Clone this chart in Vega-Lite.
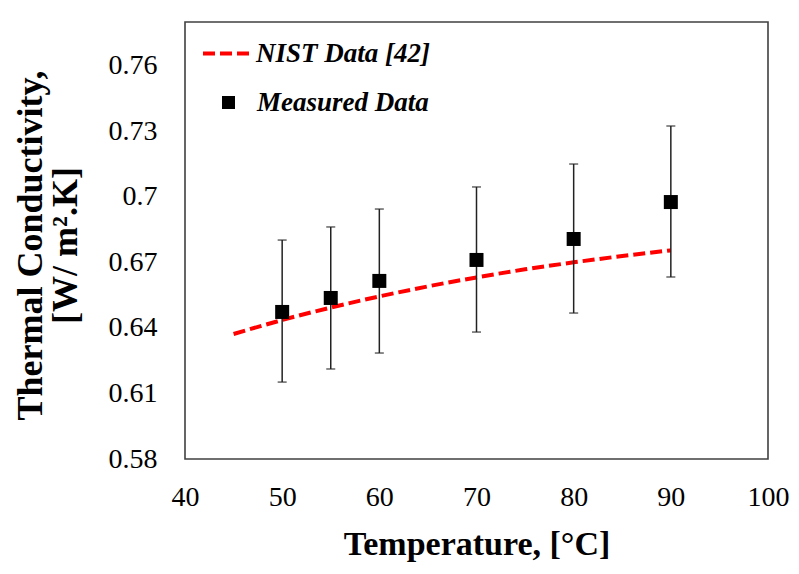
{
  "$schema": "https://vega.github.io/schema/vega-lite/v6.json",
  "width": 583,
  "height": 437,
  "autosize": {"type": "none"},
  "padding": {"left": 185, "top": 22, "right": 31, "bottom": 115},
  "background": "white",
  "datasets": {
    "nist": [
      {"temperature": 45, "k": 0.6372, "curve": "NIST Data [42]"},
      {"temperature": 50, "k": 0.6436, "curve": "NIST Data [42]"},
      {"temperature": 55, "k": 0.6493, "curve": "NIST Data [42]"},
      {"temperature": 60, "k": 0.6544, "curve": "NIST Data [42]"},
      {"temperature": 65, "k": 0.659, "curve": "NIST Data [42]"},
      {"temperature": 70, "k": 0.6631, "curve": "NIST Data [42]"},
      {"temperature": 75, "k": 0.6668, "curve": "NIST Data [42]"},
      {"temperature": 80, "k": 0.67, "curve": "NIST Data [42]"},
      {"temperature": 85, "k": 0.6729, "curve": "NIST Data [42]"},
      {"temperature": 90, "k": 0.6755, "curve": "NIST Data [42]"}
    ],
    "measured": [
      {"temperature": 50, "k": 0.6473, "err_lo": 0.6152, "err_hi": 0.6802, "sample": "Measured Data"},
      {"temperature": 55, "k": 0.6537, "err_lo": 0.6212, "err_hi": 0.6862, "sample": "Measured Data"},
      {"temperature": 60, "k": 0.6615, "err_lo": 0.6285, "err_hi": 0.6944, "sample": "Measured Data"},
      {"temperature": 70, "k": 0.6711, "err_lo": 0.6381, "err_hi": 0.7045, "sample": "Measured Data"},
      {"temperature": 80, "k": 0.6807, "err_lo": 0.6468, "err_hi": 0.715, "sample": "Measured Data"},
      {"temperature": 90, "k": 0.6976, "err_lo": 0.6633, "err_hi": 0.7324, "sample": "Measured Data"}
    ]
  },
  "encoding": {
    "x": {
      "field": "temperature",
      "type": "quantitative",
      "scale": {"domain": [40, 100], "nice": false, "zero": false},
      "axis": {
        "title": "Temperature, [°C]",
        "values": [40, 50, 60, 70, 80, 90, 100],
        "labelFlush": false,
        "labelPadding": 24,
        "titlePadding": 16
      }
    }
  },
  "layer": [
    {
      "data": {"name": "nist"},
      "mark": {"type": "line", "color": "#ff0000", "strokeWidth": 4, "interpolate": "monotone"},
      "encoding": {
        "y": {
          "field": "k",
          "type": "quantitative",
          "title": ["Thermal Conductivity,", "[W/ m².K]"],
          "scale": {"domain": [0.58, 0.78], "nice": false, "zero": false},
          "axis": {
            "values": [0.58, 0.61, 0.64, 0.67, 0.7, 0.73, 0.76],
            "format": ".2~f",
            "labelFlush": false,
            "labelPadding": 28,
            "titlePadding": 24,
            "titleFontSize": 36,
            "titleLineHeight": 35,
            "titleY": 223
          }
        },
        "strokeDash": {
          "field": "curve",
          "type": "nominal",
          "scale": {"domain": ["NIST Data [42]"], "range": [[12, 5]]},
          "legend": {
            "title": null,
            "orient": "none",
            "legendX": 16,
            "legendY": 5,
            "symbolType": "stroke",
            "symbolSize": 2401,
            "symbolStrokeWidth": 4,
            "symbolStrokeColor": "#ff0000",
            "symbolDash": [12, 5],
            "labelOffset": 2
          }
        }
      }
    },
    {
      "data": {"name": "measured"},
      "mark": {
        "type": "errorbar",
        "ticks": {"size": 9, "thickness": 1.5, "color": "#222222"},
        "rule": {"strokeWidth": 1.5, "color": "#222222"}
      },
      "encoding": {
        "y": {"field": "err_lo", "type": "quantitative", "title": ["Thermal Conductivity,", "[W/ m².K]"]},
        "y2": {"field": "err_hi", "title": ["Thermal Conductivity,", "[W/ m².K]"]}
      }
    },
    {
      "data": {"name": "measured"},
      "mark": {"type": "point", "filled": true, "color": "#000000", "size": 196, "opacity": 1},
      "encoding": {
        "y": {"field": "k", "type": "quantitative", "title": ["Thermal Conductivity,", "[W/ m².K]"]},
        "shape": {
          "field": "sample",
          "type": "nominal",
          "scale": {"domain": ["Measured Data"], "range": ["square"]},
          "legend": {
            "title": null,
            "orient": "none",
            "legendX": 30,
            "legendY": 67,
            "symbolType": "square",
            "symbolSize": 169,
            "symbolFillColor": "#000000",
            "symbolStrokeWidth": 0,
            "labelOffset": 15
          }
        }
      }
    }
  ],
  "config": {
    "view": {"stroke": "#404040", "strokeWidth": 1.6},
    "axis": {
      "domain": false,
      "ticks": false,
      "grid": false,
      "labelFont": "Liberation Serif",
      "labelFontSize": 28,
      "labelColor": "#000000",
      "titleFont": "Liberation Serif",
      "titleFontSize": 34,
      "titleFontWeight": "bold",
      "titleColor": "#000000"
    },
    "legend": {
      "labelFont": "Liberation Serif",
      "labelFontSize": 27,
      "labelFontStyle": "italic",
      "labelFontWeight": "bold",
      "labelColor": "#000000",
      "labelLimit": 400
    }
  }
}
